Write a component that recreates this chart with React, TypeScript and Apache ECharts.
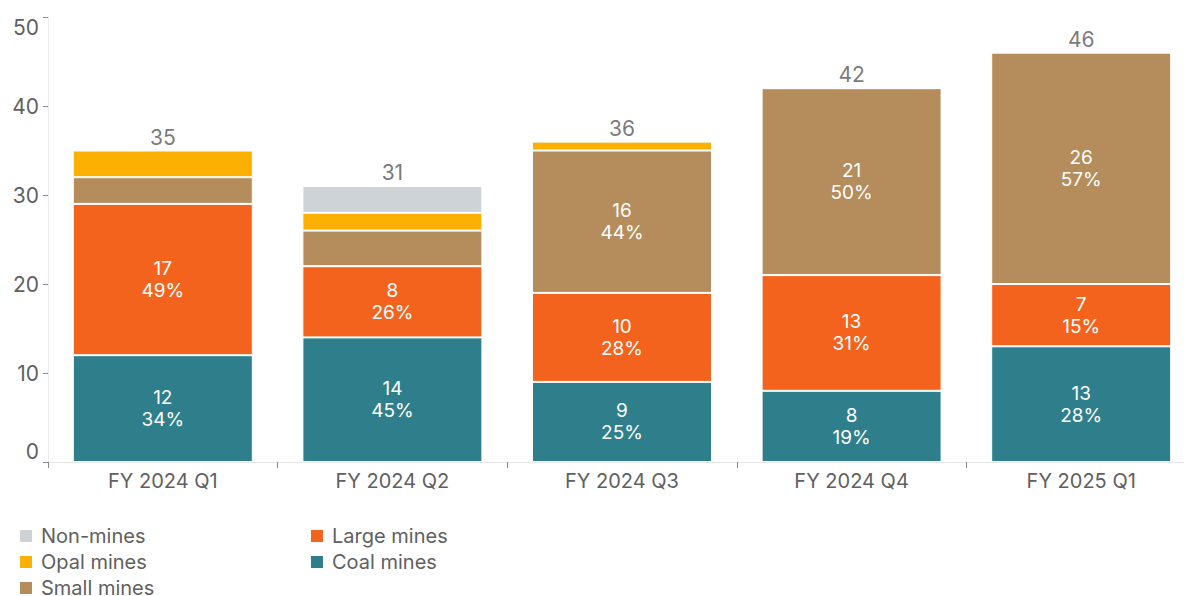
import React, { useEffect, useRef } from "react";
import * as echarts from "echarts";

const categories = ["FY 2024 Q1", "FY 2024 Q2", "FY 2024 Q3", "FY 2024 Q4", "FY 2025 Q1"];
const coalMines = [12, 14, 9, 8, 13];
const largeMines = [17, 8, 10, 13, 7];
const smallMines = [3, 4, 16, 21, 26];
const opalMines = [3, 2, 1, 0, 0];
const nonMines = [0, 3, 0, 0, 0];
const yTicks = { min: 0, max: 50, interval: 10 };

const FONT = "Inter";
const TEXT = "#606060";

export default function App() {
  const ref = useRef<HTMLDivElement>(null);
  useEffect(() => {
    if (!ref.current) return;
    const chart = echarts.init(ref.current, undefined, { renderer: "svg" });
    const totals = categories.map(
      (_, i) => coalMines[i] + largeMines[i] + smallMines[i] + opalMines[i] + nonMines[i]
    );
    const segLabel = {
      show: true,
      position: "inside" as const,
      color: "#ffffff",
      fontFamily: FONT,
      fontSize: 19,
      lineHeight: 22,
      formatter: (p: any) => {
        const v = p.value as number;
        if (v < 5) return "";
        return `${v}\n${Math.round((v / totals[p.dataIndex]) * 100)}%`;
      },
    };
    const mk = (name: string, data: number[], color: string, label: boolean) => ({
      name,
      type: "bar",
      stack: "total",
      data,
      barWidth: 180,
      itemStyle: { color, borderColor: "#ffffff", borderWidth: 1 },
      label: label ? segLabel : { show: false },
      emphasis: { disabled: true },
    });
    const legendCommon = {
      orient: "vertical" as const,
      icon: "rect",
      itemWidth: 14,
      itemHeight: 14,
      itemGap: 6,
      padding: 0,
      height: 100,
      selectedMode: false,
      textStyle: { color: TEXT, fontFamily: FONT, fontSize: 20, lineHeight: 20, padding: [0, 0, 0, 3] },
    };
    chart.setOption({
      animation: false,
      textStyle: { fontFamily: FONT },
      grid: {
        left: 48,
        width: 1148,
        top: 17,
        bottom: 134,
        containLabel: false,
        outerBoundsMode: "none",
      },
      legend: [
        { ...legendCommon, left: 18, top: 526, data: ["Non-mines", "Opal mines", "Small mines"] },
        { ...legendCommon, left: 309, top: 526, data: ["Large mines", "Coal mines"] },
      ],
      xAxis: {
        type: "category",
        data: categories,
        axisLine: { show: true, lineStyle: { color: "#e6e6e6", width: 1 } },
        axisTick: { show: true, length: 6, lineStyle: { color: "#8a8a8a" } },
        axisLabel: { color: TEXT, fontFamily: FONT, fontSize: 20, margin: 9 },
      },
      yAxis: {
        type: "value",
        min: yTicks.min,
        max: yTicks.max,
        interval: yTicks.interval,
        splitLine: { show: false },
        axisLine: { show: true, lineStyle: { color: "#ececec", width: 1 } },
        axisTick: { show: true, length: 5, lineStyle: { color: "#8a8a8a" } },
        axisLabel: {
          color: TEXT,
          fontFamily: FONT,
          fontSize: 21,
          margin: 9,
          verticalAlignMinLabel: "bottom",
          verticalAlignMaxLabel: "top",
        },
      },
      series: [
        mk("Coal mines", coalMines, "#2e7f8b", true),
        mk("Large mines", largeMines, "#f4631e", true),
        mk("Small mines", smallMines, "#b58d5c", true),
        mk("Opal mines", opalMines, "#fbb002", false),
        mk("Non-mines", nonMines, "#ced3d7", false),
        {
          name: "Total",
          type: "scatter",
          data: totals,
          symbolSize: 0,
          silent: true,
          z: 10,
          label: {
            show: true,
            position: "top",
            distance: 3,
            color: "#555555",
            fontFamily: FONT,
            fontSize: 21,
            formatter: (p: any) => `${p.value}`,
          },
        },
      ],
    });
    return () => chart.dispose();
  }, []);
  return (
    <div
      ref={ref}
      style={{ position: "fixed", left: 0, top: 0, width: 1184, height: 596, background: "#ffffff" }}
    />
  );
}
